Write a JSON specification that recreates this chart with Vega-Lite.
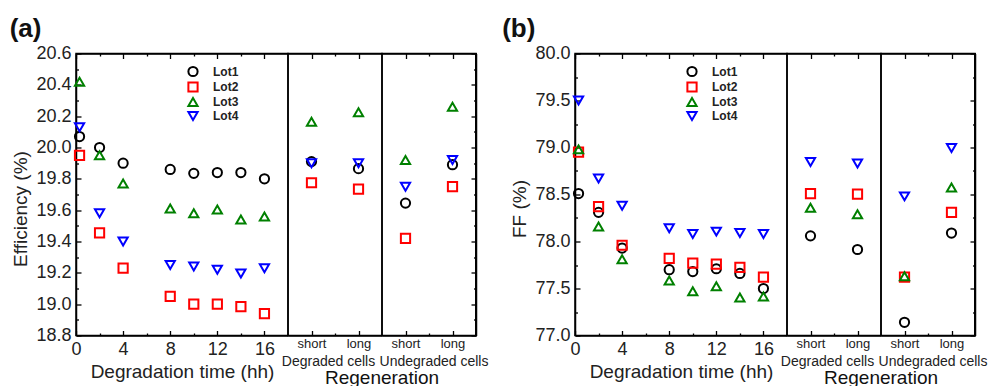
{
  "$schema": "https://vega.github.io/schema/vega-lite/v6.json",
  "background": "white",
  "padding": {"left": 8, "top": 14.5, "right": 5, "bottom": 1},
  "config": {
    "view": {"stroke": "black", "strokeWidth": 1.5},
    "font": "Liberation Sans",
    "axis": {
      "grid": false,
      "domainColor": "black",
      "domainWidth": 1.5,
      "tickColor": "black",
      "tickWidth": 1.3,
      "labelColor": "#222222",
      "titleColor": "#222222",
      "labelFont": "Liberation Sans",
      "titleFont": "Liberation Sans",
      "titleFontWeight": "normal",
      "labelFlush": false,
      "labelOverlap": false
    },
    "title": {"font": "Liberation Sans", "color": "#111111"}
  },
  "datasets": {
    "cells": [
      {"lot": "Lot1", "stage": "Degradation", "time": 0.3, "duration": null, "eff": 20.07, "ff": 78.51},
      {"lot": "Lot1", "stage": "Degradation", "time": 2, "duration": null, "eff": 20.0, "ff": 78.31},
      {"lot": "Lot1", "stage": "Degradation", "time": 4, "duration": null, "eff": 19.9, "ff": 77.93},
      {"lot": "Lot1", "stage": "Degradation", "time": 8, "duration": null, "eff": 19.86, "ff": 77.7},
      {"lot": "Lot1", "stage": "Degradation", "time": 10, "duration": null, "eff": 19.835, "ff": 77.68},
      {"lot": "Lot1", "stage": "Degradation", "time": 12, "duration": null, "eff": 19.84, "ff": 77.71},
      {"lot": "Lot1", "stage": "Degradation", "time": 14, "duration": null, "eff": 19.84, "ff": 77.66},
      {"lot": "Lot1", "stage": "Degradation", "time": 16, "duration": null, "eff": 19.8, "ff": 77.5},
      {"lot": "Lot2", "stage": "Degradation", "time": 0.3, "duration": null, "eff": 19.95, "ff": 78.95},
      {"lot": "Lot2", "stage": "Degradation", "time": 2, "duration": null, "eff": 19.455, "ff": 78.37},
      {"lot": "Lot2", "stage": "Degradation", "time": 4, "duration": null, "eff": 19.23, "ff": 77.96},
      {"lot": "Lot2", "stage": "Degradation", "time": 8, "duration": null, "eff": 19.05, "ff": 77.82},
      {"lot": "Lot2", "stage": "Degradation", "time": 10, "duration": null, "eff": 19.0, "ff": 77.77},
      {"lot": "Lot2", "stage": "Degradation", "time": 12, "duration": null, "eff": 19.0, "ff": 77.76},
      {"lot": "Lot2", "stage": "Degradation", "time": 14, "duration": null, "eff": 18.985, "ff": 77.725},
      {"lot": "Lot2", "stage": "Degradation", "time": 16, "duration": null, "eff": 18.94, "ff": 77.62},
      {"lot": "Lot3", "stage": "Degradation", "time": 0.3, "duration": null, "eff": 20.42, "ff": 78.98},
      {"lot": "Lot3", "stage": "Degradation", "time": 2, "duration": null, "eff": 19.95, "ff": 78.16},
      {"lot": "Lot3", "stage": "Degradation", "time": 4, "duration": null, "eff": 19.77, "ff": 77.81},
      {"lot": "Lot3", "stage": "Degradation", "time": 8, "duration": null, "eff": 19.61, "ff": 77.585},
      {"lot": "Lot3", "stage": "Degradation", "time": 10, "duration": null, "eff": 19.58, "ff": 77.47},
      {"lot": "Lot3", "stage": "Degradation", "time": 12, "duration": null, "eff": 19.605, "ff": 77.525},
      {"lot": "Lot3", "stage": "Degradation", "time": 14, "duration": null, "eff": 19.54, "ff": 77.405},
      {"lot": "Lot3", "stage": "Degradation", "time": 16, "duration": null, "eff": 19.56, "ff": 77.415},
      {"lot": "Lot4", "stage": "Degradation", "time": 0.3, "duration": null, "eff": 20.13, "ff": 79.5},
      {"lot": "Lot4", "stage": "Degradation", "time": 2, "duration": null, "eff": 19.58, "ff": 78.67},
      {"lot": "Lot4", "stage": "Degradation", "time": 4, "duration": null, "eff": 19.4, "ff": 78.38},
      {"lot": "Lot4", "stage": "Degradation", "time": 8, "duration": null, "eff": 19.25, "ff": 78.14},
      {"lot": "Lot4", "stage": "Degradation", "time": 10, "duration": null, "eff": 19.24, "ff": 78.08},
      {"lot": "Lot4", "stage": "Degradation", "time": 12, "duration": null, "eff": 19.22, "ff": 78.105},
      {"lot": "Lot4", "stage": "Degradation", "time": 14, "duration": null, "eff": 19.195, "ff": 78.09},
      {"lot": "Lot4", "stage": "Degradation", "time": 16, "duration": null, "eff": 19.23, "ff": 78.08},
      {"lot": "Lot1", "stage": "Degraded", "time": null, "duration": "short", "eff": 19.91, "ff": 78.06},
      {"lot": "Lot1", "stage": "Degraded", "time": null, "duration": "long", "eff": 19.865, "ff": 77.915},
      {"lot": "Lot2", "stage": "Degraded", "time": null, "duration": "short", "eff": 19.775, "ff": 78.51},
      {"lot": "Lot2", "stage": "Degraded", "time": null, "duration": "long", "eff": 19.735, "ff": 78.505},
      {"lot": "Lot3", "stage": "Degraded", "time": null, "duration": "short", "eff": 20.165, "ff": 78.36},
      {"lot": "Lot3", "stage": "Degraded", "time": null, "duration": "long", "eff": 20.225, "ff": 78.29},
      {"lot": "Lot4", "stage": "Degraded", "time": null, "duration": "short", "eff": 19.9, "ff": 78.845},
      {"lot": "Lot4", "stage": "Degraded", "time": null, "duration": "long", "eff": 19.9, "ff": 78.83},
      {"lot": "Lot1", "stage": "Undegraded", "time": null, "duration": "short", "eff": 19.645, "ff": 77.14},
      {"lot": "Lot1", "stage": "Undegraded", "time": null, "duration": "long", "eff": 19.89, "ff": 78.09},
      {"lot": "Lot2", "stage": "Undegraded", "time": null, "duration": "short", "eff": 19.42, "ff": 77.62},
      {"lot": "Lot2", "stage": "Undegraded", "time": null, "duration": "long", "eff": 19.75, "ff": 78.31},
      {"lot": "Lot3", "stage": "Undegraded", "time": null, "duration": "short", "eff": 19.92, "ff": 77.63},
      {"lot": "Lot3", "stage": "Undegraded", "time": null, "duration": "long", "eff": 20.26, "ff": 78.575},
      {"lot": "Lot4", "stage": "Undegraded", "time": null, "duration": "short", "eff": 19.75, "ff": 78.48},
      {"lot": "Lot4", "stage": "Undegraded", "time": null, "duration": "long", "eff": 19.92, "ff": 78.995}
    ]
  },
  "data": {"name": "cells"},
  "spacing": 0,
  "bounds": "flush",
  "resolve": {"scale": {"x": "independent", "y": "independent", "color": "independent", "shape": "independent"}, "axis": {"x": "independent", "y": "independent"}},
  "hconcat": [
    {
      "title": {"text": "(a)", "anchor": "start", "frame": "bounds", "fontSize": 26, "fontWeight": "bold", "baseline": "alphabetic", "offset": -18, "dx": -2},
      "width": 212, "height": 282,
      "transform": [{"filter": "datum.stage === 'Degradation'"}],
      "resolve": {"axis": {"x": "independent", "y": "independent"}},
      "layer": [
        {
          "mark": {"type": "point", "filled": false, "strokeWidth": 2, "size": 85, "opacity": 1},
          "encoding": {
            "x": {"field": "time", "type": "quantitative", "scale": {"domain": [0, 18], "nice": false, "zero": false},
              "axis": {"orient": "bottom", "values": [0, 2, 4, 6, 8, 10, 12, 14, 16], "labelExpr": "datum.value % 4 === 0 ? datum.label : ''", "tickSize": {"condition": {"test": "datum.value % 4 === 0", "value": -5}, "value": -2.5}, "title": "Degradation time (hh)", "labelFontSize": 18, "labelPadding": 10, "titleFontSize": 19, "titlePadding": 1}},
            "y": {"field": "eff", "type": "quantitative", "scale": {"domain": [18.8, 20.6], "nice": false, "zero": false},
              "axis": {"orient": "left", "values": [18.8, 18.9, 19.0, 19.1, 19.2, 19.3, 19.4, 19.5, 19.6, 19.7, 19.8, 19.9, 20.0, 20.1, 20.2, 20.3, 20.4, 20.5, 20.6], "labelExpr": "round(datum.value * 10) % 2 === 0 ? format(datum.value, '.1f') : ''", "tickSize": {"condition": {"test": "round(datum.value * 10) % 2 === 0", "value": -5}, "value": -2.5}, "title": "Efficiency (%)", "titleY": 155, "labelFontSize": 18, "labelPadding": 10, "titleFontSize": 19, "titlePadding": 5.3}},
            "color": {"field": "lot", "type": "nominal", "scale": {"domain": ["Lot1", "Lot2", "Lot3", "Lot4"], "range": ["#000000", "#ff0000", "#008000", "#0000ff"]},
              "legend": {"orient": "none", "legendX": 111, "legendY": 12, "title": null, "labelFontWeight": "bold", "labelFontSize": 12, "labelFont": "Liberation Sans", "labelColor": "#222222", "symbolStrokeWidth": 2, "symbolSize": 85, "rowPadding": -2.5, "labelOffset": 14, "padding": 0}},
            "shape": {"field": "lot", "type": "nominal", "scale": {"domain": ["Lot1", "Lot2", "Lot3", "Lot4"], "range": ["circle", "square", "triangle-up", "triangle-down"]},
              "legend": {"orient": "none", "legendX": 111, "legendY": 12, "title": null, "labelFontWeight": "bold", "labelFontSize": 12, "labelFont": "Liberation Sans", "labelColor": "#222222", "symbolStrokeWidth": 2, "symbolSize": 85, "rowPadding": -2.5, "labelOffset": 14, "padding": 0}}
          }
        },
        {
          "mark": {"type": "point", "opacity": 0},
          "encoding": {
            "x": {"field": "time", "type": "quantitative", "scale": {"domain": [0, 18], "nice": false, "zero": false},
              "axis": {"orient": "top", "values": [0, 2, 4, 6, 8, 10, 12, 14, 16], "labels": false, "title": null, "tickSize": {"condition": {"test": "datum.value % 4 === 0", "value": -5}, "value": -2.5}}},
            "y": {"field": "eff", "type": "quantitative", "scale": {"domain": [18.8, 20.6], "nice": false, "zero": false}, "axis": null}
          }
        }
      ]
    },
    {
      "title": {"text": "Regeneration", "orient": "bottom", "anchor": "end", "align": "center", "frame": "group", "fontSize": 19, "fontWeight": "normal", "offset": 0.5},
      "width": 94, "height": 282,
      "transform": [{"filter": "datum.stage === 'Degraded'"}],
      "resolve": {"axis": {"x": "independent", "y": "independent"}},
      "layer": [
        {
          "mark": {"type": "point", "filled": false, "strokeWidth": 2, "size": 85, "opacity": 1},
          "encoding": {
            "x": {"field": "duration", "type": "ordinal", "scale": {"type": "point", "domain": ["short", "mid", "long"], "padding": 1},
              "axis": {"orient": "bottom", "labelAngle": 0, "labelExpr": "datum.value === 'mid' ? '' : datum.label", "tickSize": {"condition": {"test": "datum.value === 'mid'", "value": -2.5}, "value": -5}, "title": "Degraded cells", "titleX": 40, "labelFontSize": 13, "labelPadding": 7, "titleFontSize": 14, "titlePadding": 1}},
            "y": {"field": "eff", "type": "quantitative", "scale": {"domain": [18.8, 20.6], "nice": false, "zero": false}, "axis": null},
            "color": {"field": "lot", "type": "nominal", "scale": {"domain": ["Lot1", "Lot2", "Lot3", "Lot4"], "range": ["#000000", "#ff0000", "#008000", "#0000ff"]}, "legend": null},
            "shape": {"field": "lot", "type": "nominal", "scale": {"domain": ["Lot1", "Lot2", "Lot3", "Lot4"], "range": ["circle", "square", "triangle-up", "triangle-down"]}, "legend": null}
          }
        },
        {
          "mark": {"type": "point", "opacity": 0},
          "encoding": {
            "x": {"field": "duration", "type": "ordinal", "scale": {"type": "point", "domain": ["short", "mid", "long"], "padding": 1},
              "axis": {"orient": "top", "labels": false, "title": null, "tickSize": {"condition": {"test": "datum.value === 'mid'", "value": -2.5}, "value": -5}}},
            "y": {"field": "eff", "type": "quantitative", "scale": {"domain": [18.8, 20.6], "nice": false, "zero": false}, "axis": null}
          }
        }
      ]
    },
    {
      "width": 94, "height": 282,
      "transform": [{"filter": "datum.stage === 'Undegraded'"}],
      "resolve": {"axis": {"x": "independent", "y": "independent"}},
      "layer": [
        {
          "mark": {"type": "point", "filled": false, "strokeWidth": 2, "size": 85, "opacity": 1},
          "encoding": {
            "x": {"field": "duration", "type": "ordinal", "scale": {"type": "point", "domain": ["short", "mid", "long"], "padding": 1},
              "axis": {"orient": "bottom", "labelAngle": 0, "labelExpr": "datum.value === 'mid' ? '' : datum.label", "tickSize": {"condition": {"test": "datum.value === 'mid'", "value": -2.5}, "value": -5}, "title": "Undegraded cells", "titleX": 51.5, "labelFontSize": 13, "labelPadding": 7, "titleFontSize": 14, "titlePadding": 1}},
            "y": {"field": "eff", "type": "quantitative", "scale": {"domain": [18.8, 20.6], "nice": false, "zero": false}, "axis": null},
            "color": {"field": "lot", "type": "nominal", "scale": {"domain": ["Lot1", "Lot2", "Lot3", "Lot4"], "range": ["#000000", "#ff0000", "#008000", "#0000ff"]}, "legend": null},
            "shape": {"field": "lot", "type": "nominal", "scale": {"domain": ["Lot1", "Lot2", "Lot3", "Lot4"], "range": ["circle", "square", "triangle-up", "triangle-down"]}, "legend": null}
          }
        },
        {
          "mark": {"type": "point", "opacity": 0},
          "encoding": {
            "x": {"field": "duration", "type": "ordinal", "scale": {"type": "point", "domain": ["short", "mid", "long"], "padding": 1},
              "axis": {"orient": "top", "labels": false, "title": null, "tickSize": {"condition": {"test": "datum.value === 'mid'", "value": -2.5}, "value": -5}}},
            "y": {"field": "eff", "type": "quantitative", "scale": {"domain": [18.8, 20.6], "nice": false, "zero": false}, "axis": null}
          }
        },
        {
          "mark": {"type": "rule", "color": "black", "strokeWidth": 1.5},
          "encoding": {"x": {"value": "width"}}
        }
      ]
    },
    {
      "width": 99, "height": 282,
      "view": {"stroke": "black", "strokeWidth": 1.5, "strokeDash": [0, 480, 282], "fill": null},
      "mark": {"type": "point", "opacity": 0},
      "encoding": {
        "x": {"field": "time", "type": "quantitative", "axis": null},
        "y": {"field": "eff", "type": "quantitative", "scale": {"domain": [18.8, 20.6], "nice": false, "zero": false},
          "axis": {"orient": "left", "zindex": 1, "values": [18.8, 18.9, 19.0, 19.1, 19.2, 19.3, 19.4, 19.5, 19.6, 19.7, 19.8, 19.9, 20.0, 20.1, 20.2, 20.3, 20.4, 20.5, 20.6], "labels": false, "title": null, "tickSize": {"condition": {"test": "round(datum.value * 10) % 2 === 0", "value": 5}, "value": 2.5}}}
      }
    },
    {
      "title": {"text": "(b)", "anchor": "start", "frame": "bounds", "fontSize": 26, "fontWeight": "bold", "baseline": "alphabetic", "offset": -18, "dx": -8.5},
      "width": 212, "height": 282,
      "transform": [{"filter": "datum.stage === 'Degradation'"}],
      "resolve": {"axis": {"x": "independent", "y": "independent"}},
      "layer": [
        {
          "mark": {"type": "point", "filled": false, "strokeWidth": 2, "size": 85, "opacity": 1},
          "encoding": {
            "x": {"field": "time", "type": "quantitative", "scale": {"domain": [0, 18], "nice": false, "zero": false},
              "axis": {"orient": "bottom", "values": [0, 2, 4, 6, 8, 10, 12, 14, 16], "labelExpr": "datum.value % 4 === 0 ? datum.label : ''", "tickSize": {"condition": {"test": "datum.value % 4 === 0", "value": -5}, "value": -2.5}, "title": "Degradation time (hh)", "labelFontSize": 18, "labelPadding": 10, "titleFontSize": 19, "titlePadding": 1}},
            "y": {"field": "ff", "type": "quantitative", "scale": {"domain": [77, 80], "nice": false, "zero": false},
              "axis": {"orient": "left", "values": [77, 77.25, 77.5, 77.75, 78, 78.25, 78.5, 78.75, 79, 79.25, 79.5, 79.75, 80], "labelExpr": "datum.value % 0.5 === 0 ? format(datum.value, '.1f') : ''", "tickSize": {"condition": {"test": "datum.value % 0.5 === 0", "value": -5}, "value": -2.5}, "title": "FF (%)", "titleY": 155, "labelFontSize": 18, "labelPadding": 10, "titleFontSize": 19, "titlePadding": 5.3}},
            "color": {"field": "lot", "type": "nominal", "scale": {"domain": ["Lot1", "Lot2", "Lot3", "Lot4"], "range": ["#000000", "#ff0000", "#008000", "#0000ff"]},
              "legend": {"orient": "none", "legendX": 111, "legendY": 12, "title": null, "labelFontWeight": "bold", "labelFontSize": 12, "labelFont": "Liberation Sans", "labelColor": "#222222", "symbolStrokeWidth": 2, "symbolSize": 85, "rowPadding": -2.5, "labelOffset": 14, "padding": 0}},
            "shape": {"field": "lot", "type": "nominal", "scale": {"domain": ["Lot1", "Lot2", "Lot3", "Lot4"], "range": ["circle", "square", "triangle-up", "triangle-down"]},
              "legend": {"orient": "none", "legendX": 111, "legendY": 12, "title": null, "labelFontWeight": "bold", "labelFontSize": 12, "labelFont": "Liberation Sans", "labelColor": "#222222", "symbolStrokeWidth": 2, "symbolSize": 85, "rowPadding": -2.5, "labelOffset": 14, "padding": 0}}
          }
        },
        {
          "mark": {"type": "point", "opacity": 0},
          "encoding": {
            "x": {"field": "time", "type": "quantitative", "scale": {"domain": [0, 18], "nice": false, "zero": false},
              "axis": {"orient": "top", "values": [0, 2, 4, 6, 8, 10, 12, 14, 16], "labels": false, "title": null, "tickSize": {"condition": {"test": "datum.value % 4 === 0", "value": -5}, "value": -2.5}}},
            "y": {"field": "ff", "type": "quantitative", "scale": {"domain": [77, 80], "nice": false, "zero": false}, "axis": null}
          }
        }
      ]
    },
    {
      "title": {"text": "Regeneration", "orient": "bottom", "anchor": "end", "align": "center", "frame": "group", "fontSize": 19, "fontWeight": "normal", "offset": 0.5},
      "width": 94, "height": 282,
      "transform": [{"filter": "datum.stage === 'Degraded'"}],
      "resolve": {"axis": {"x": "independent", "y": "independent"}},
      "layer": [
        {
          "mark": {"type": "point", "filled": false, "strokeWidth": 2, "size": 85, "opacity": 1},
          "encoding": {
            "x": {"field": "duration", "type": "ordinal", "scale": {"type": "point", "domain": ["short", "mid", "long"], "padding": 1},
              "axis": {"orient": "bottom", "labelAngle": 0, "labelExpr": "datum.value === 'mid' ? '' : datum.label", "tickSize": {"condition": {"test": "datum.value === 'mid'", "value": -2.5}, "value": -5}, "title": "Degraded cells", "titleX": 40, "labelFontSize": 13, "labelPadding": 7, "titleFontSize": 14, "titlePadding": 1}},
            "y": {"field": "ff", "type": "quantitative", "scale": {"domain": [77, 80], "nice": false, "zero": false}, "axis": null},
            "color": {"field": "lot", "type": "nominal", "scale": {"domain": ["Lot1", "Lot2", "Lot3", "Lot4"], "range": ["#000000", "#ff0000", "#008000", "#0000ff"]}, "legend": null},
            "shape": {"field": "lot", "type": "nominal", "scale": {"domain": ["Lot1", "Lot2", "Lot3", "Lot4"], "range": ["circle", "square", "triangle-up", "triangle-down"]}, "legend": null}
          }
        },
        {
          "mark": {"type": "point", "opacity": 0},
          "encoding": {
            "x": {"field": "duration", "type": "ordinal", "scale": {"type": "point", "domain": ["short", "mid", "long"], "padding": 1},
              "axis": {"orient": "top", "labels": false, "title": null, "tickSize": {"condition": {"test": "datum.value === 'mid'", "value": -2.5}, "value": -5}}},
            "y": {"field": "ff", "type": "quantitative", "scale": {"domain": [77, 80], "nice": false, "zero": false}, "axis": null}
          }
        }
      ]
    },
    {
      "width": 94, "height": 282,
      "transform": [{"filter": "datum.stage === 'Undegraded'"}],
      "resolve": {"axis": {"x": "independent", "y": "independent"}},
      "layer": [
        {
          "mark": {"type": "point", "filled": false, "strokeWidth": 2, "size": 85, "opacity": 1},
          "encoding": {
            "x": {"field": "duration", "type": "ordinal", "scale": {"type": "point", "domain": ["short", "mid", "long"], "padding": 1},
              "axis": {"orient": "bottom", "labelAngle": 0, "labelExpr": "datum.value === 'mid' ? '' : datum.label", "tickSize": {"condition": {"test": "datum.value === 'mid'", "value": -2.5}, "value": -5}, "title": "Undegraded cells", "titleX": 51.5, "labelFontSize": 13, "labelPadding": 7, "titleFontSize": 14, "titlePadding": 1}},
            "y": {"field": "ff", "type": "quantitative", "scale": {"domain": [77, 80], "nice": false, "zero": false}, "axis": null},
            "color": {"field": "lot", "type": "nominal", "scale": {"domain": ["Lot1", "Lot2", "Lot3", "Lot4"], "range": ["#000000", "#ff0000", "#008000", "#0000ff"]}, "legend": null},
            "shape": {"field": "lot", "type": "nominal", "scale": {"domain": ["Lot1", "Lot2", "Lot3", "Lot4"], "range": ["circle", "square", "triangle-up", "triangle-down"]}, "legend": null}
          }
        },
        {
          "mark": {"type": "point", "opacity": 0},
          "encoding": {
            "x": {"field": "duration", "type": "ordinal", "scale": {"type": "point", "domain": ["short", "mid", "long"], "padding": 1},
              "axis": {"orient": "top", "labels": false, "title": null, "tickSize": {"condition": {"test": "datum.value === 'mid'", "value": -2.5}, "value": -5}}},
            "y": {"field": "ff", "type": "quantitative", "scale": {"domain": [77, 80], "nice": false, "zero": false}, "axis": null}
          }
        },
        {
          "mark": {"type": "rule", "color": "black", "strokeWidth": 1.5},
          "encoding": {"x": {"value": "width"}}
        }
      ]
    },
    {
      "width": 1, "height": 282,
      "view": {"stroke": "black", "strokeWidth": 1.5, "strokeDash": [0, 284, 282], "fill": null},
      "mark": {"type": "point", "opacity": 0},
      "encoding": {
        "x": {"field": "time", "type": "quantitative", "axis": null},
        "y": {"field": "ff", "type": "quantitative", "scale": {"domain": [77, 80], "nice": false, "zero": false},
          "axis": {"orient": "left", "zindex": 1, "values": [77, 77.25, 77.5, 77.75, 78, 78.25, 78.5, 78.75, 79, 79.25, 79.5, 79.75, 80], "labels": false, "title": null, "tickSize": {"condition": {"test": "datum.value % 0.5 === 0", "value": 5}, "value": 2.5}}}
      }
    }
  ]
}
